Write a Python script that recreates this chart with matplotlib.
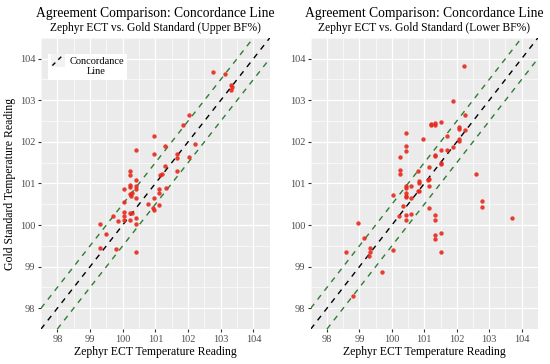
import numpy as np
import matplotlib
matplotlib.use("Agg")
import matplotlib.pyplot as plt
from matplotlib.lines import Line2D
from matplotlib.patches import Rectangle

# Upper BF% panel (Zephyr ECT, Gold Standard)
upper_ect = [102.75, 103.12, 103.31, 103.31, 103.35, 102.03, 101.85, 102.21, 100.95, 100.41,
             101.30, 100.95, 101.66, 101.66, 102.03, 101.30, 100.22, 100.22, 101.14, 101.21,
             101.66, 100.41, 100.05, 100.22, 100.22, 100.41, 100.41, 100.22, 100.25, 100.30,
             100.05, 100.41, 100.76, 100.95, 101.12, 101.12, 101.32, 101.12, 100.95, 100.93,
             99.70, 100.05, 100.05, 100.05, 100.22, 100.22, 100.30, 99.86, 100.41, 100.41,
             99.32, 99.50, 99.32, 99.80, 100.41]
upper_gold = [103.69, 103.63, 103.36, 103.25, 103.33, 102.65, 102.40, 101.94, 102.14, 101.80,
              101.89, 101.70, 101.71, 101.62, 101.63, 101.42, 101.30, 101.21, 101.21, 101.22,
              101.30, 101.09, 100.86, 100.97, 100.91, 100.93, 100.86, 100.74, 100.71, 100.76,
              100.55, 100.65, 100.51, 100.65, 100.86, 100.76, 100.88, 100.49, 100.37, 100.40,
              100.21, 100.32, 100.21, 100.13, 100.13, 100.29, 100.29, 100.09, 100.18, 100.02,
              100.02, 99.78, 99.44, 99.42, 99.36]

# Lower BF% panel
lower_ect = [102.23, 101.88, 102.24, 101.22, 101.22, 101.33, 101.33, 101.52, 102.06, 102.06,
             102.24, 100.42, 100.97, 101.69, 102.06, 102.06, 100.42, 100.42, 101.51, 101.69,
             101.88, 101.33, 101.33, 101.51, 100.24, 100.24, 100.24, 101.15, 100.79, 102.60,
             103.69, 102.79, 102.79, 101.50, 101.33, 101.33, 101.33, 101.33, 101.50, 101.13,
             100.83, 100.83, 101.13, 101.13, 100.60, 100.42, 100.42, 100.42, 100.42, 100.42,
             100.79, 100.83, 100.05, 100.60, 100.33, 100.60, 100.42, 100.42, 100.21, 98.97,
             99.14, 100.05, 99.33, 99.33, 99.28, 98.60, 99.69, 98.79, 101.51, 101.11]
lower_gold = [103.83, 102.98, 102.65, 102.44, 102.40, 102.46, 102.40, 102.48, 102.35, 102.30,
              102.29, 102.22, 102.08, 102.13, 102.07, 102.01, 101.90, 101.79, 101.81, 101.81,
              101.87, 101.69, 101.65, 101.48, 101.63, 101.33, 101.23, 101.39, 101.30, 101.22,
              100.16, 100.59, 100.43, 99.80, 99.75, 99.66, 100.25, 100.11, 99.36, 100.40,
              101.05, 101.01, 100.95, 101.10, 100.95, 100.93, 100.88, 100.76, 100.71, 100.67,
              100.83, 100.82, 100.73, 100.65, 100.46, 100.27, 100.24, 100.11, 100.21, 100.05,
              99.68, 99.39, 99.44, 99.36, 99.25, 99.36, 98.86, 98.29, 101.46, 101.08]

ticks = [98, 99, 100, 101, 102, 103, 104]
offset = 0.5

plt.rcParams["font.family"] = ["Liberation Serif", "DejaVu Serif"]

fig = plt.figure(figsize=(5.5, 3.64), dpi=100)
ax1 = fig.add_axes([0.0745, 0.096, 0.416, 0.80])
ax2 = fig.add_axes([0.565, 0.096, 0.413, 0.80])


class DiagHandler:
    # ggplot-style key: grey square with a diagonal dashed line
    def legend_artist(self, legend, orig_handle, fontsize, handlebox):
        x0, y0 = handlebox.xdescent, handlebox.ydescent
        w, h = handlebox.width, handlebox.height
        tr = handlebox.get_transform()
        bg = Rectangle((x0, y0), w, h, facecolor="#F2F2F2", edgecolor="none", transform=tr)
        ln = Line2D([x0 + 1, x0 + w - 1], [y0 + 1, y0 + h - 1], color="black",
                    linestyle=(0, (3, 3)), linewidth=1.0, transform=tr)
        handlebox.add_artist(bg)
        handlebox.add_artist(ln)
        return ln


def style_panel(ax, x, y, subtitle, ylabel):
    ax.set_facecolor("#EBEBEB")
    for s in ax.spines.values():
        s.set_visible(False)
    ax.set_xlim(97.7, 104.35)
    ax.set_ylim(97.78, 104.3)
    ax.set_xticks(ticks)
    ax.set_yticks(ticks)
    ax.set_xticks(np.arange(97.5, 104.6, 1.0), minor=True)
    ax.set_yticks(np.arange(97.5, 104.6, 1.0), minor=True)
    ax.grid(which="major", color="white", linewidth=0.9)
    ax.grid(which="minor", color="white", linewidth=0.45)
    ax.set_axisbelow(True)
    ax.tick_params(which="major", length=2.5, color="#333333", labelsize=7.5,
                   labelcolor="#4D4D4D", pad=1.5)
    ax.tick_params(which="minor", length=0)

    ax.axline((100, 100 + offset), slope=1, color="#2E7D32", linestyle=(0, (4, 4)), linewidth=1.0)
    ax.axline((100, 100 - offset), slope=1, color="#2E7D32", linestyle=(0, (4, 4)), linewidth=1.0)
    ax.axline((100, 100), slope=1, color="black", linestyle=(0, (4, 4)), linewidth=1.0)
    ax.scatter(x, y, s=10, color="#E8291C", alpha=0.9, linewidths=0, zorder=3)

    ax.set_xlabel("Zephyr ECT Temperature Reading", fontsize=8.5, labelpad=1.5)
    if ylabel:
        ax.set_ylabel("Gold Standard Temperature Reading", fontsize=8.5, labelpad=3)
    ax.text(0.5, 1.072, "Agreement Comparison: Concordance Line", transform=ax.transAxes,
            ha="center", va="baseline", fontsize=9.8)
    ax.text(0.5, 1.024, subtitle, transform=ax.transAxes, ha="center", va="baseline", fontsize=8.4)


style_panel(ax1, upper_ect, upper_gold, "Zephyr ECT vs. Gold Standard (Upper BF%)", True)
style_panel(ax2, lower_ect, lower_gold, "Zephyr ECT vs. Gold Standard (Lower BF%)", False)

handle = Line2D([0], [0], color="black", linestyle=(0, (3, 3)), linewidth=1.0)
leg = ax1.legend([handle], ["Concordance\nLine"], loc="upper left", bbox_to_anchor=(0.03, 0.945),
                 borderaxespad=0, fontsize=7.5, frameon=True, fancybox=False, framealpha=1.0,
                 edgecolor="white", handlelength=1.3, handleheight=1.6, handletextpad=0.45,
                 borderpad=0.3, handler_map={Line2D: DiagHandler()})
leg.get_frame().set_linewidth(0)
for t in leg.get_texts():
    t.set_multialignment("center")

fig.savefig("out.png", dpi=100)
